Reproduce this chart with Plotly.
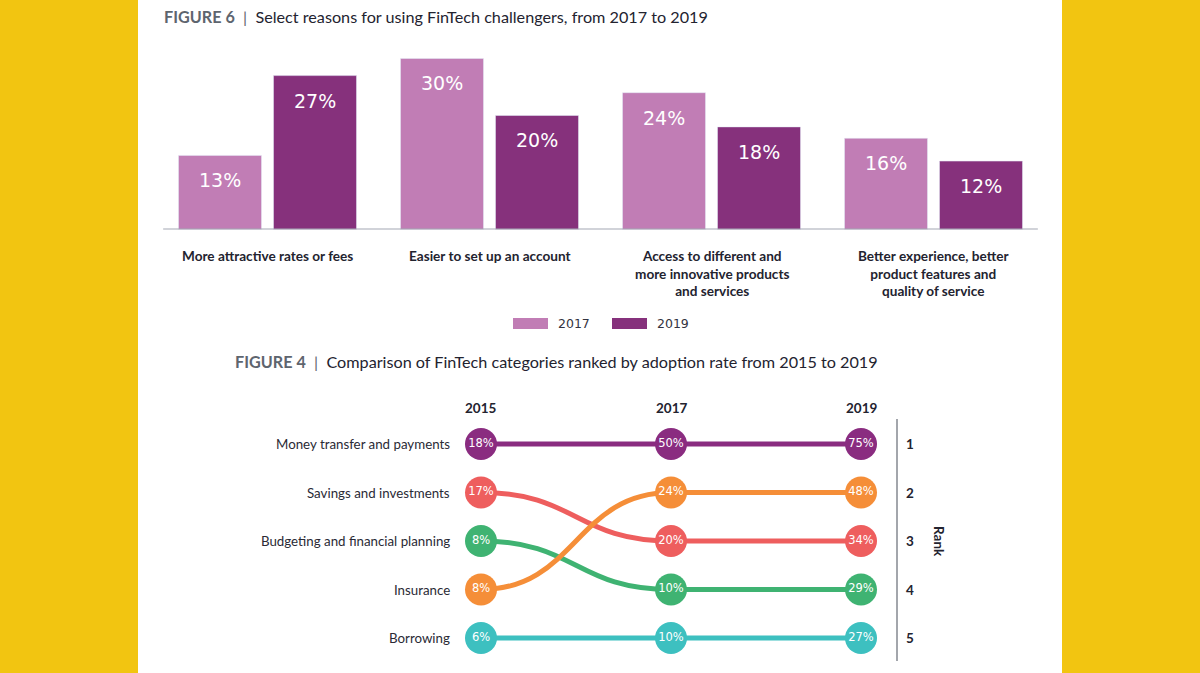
import plotly.graph_objects as go

# ---------------- data ----------------
reasons = ["More attractive rates or fees", "Easier to set up an account",
           "Access to different and more innovative products and services",
           "Better experience, better product features and quality of service"]
reason_labels = ["More attractive rates or fees", "Easier to set up an account",
                 "Access to different and<br>more innovative products<br>and services",
                 "Better experience, better<br>product features and<br>quality of service"]
share_2017 = [13, 30, 24, 16]
share_2019 = [27, 20, 18, 12]

bump_years = [2015, 2017, 2019]
bump_categories = ["Money transfer and payments", "Savings and investments",
                   "Budgeting and financial planning", "Insurance", "Borrowing"]
rank_money = [1, 1, 1]
rank_savings = [2, 3, 3]
rank_budget = [3, 4, 4]
rank_insurance = [4, 2, 2]
rank_borrow = [5, 5, 5]
adopt_money = [18, 50, 75]
adopt_savings = [17, 20, 34]
adopt_budget = [8, 10, 29]
adopt_insurance = [8, 24, 48]
adopt_borrow = [6, 10, 27]
rank_labels = ["1", "2", "3", "4", "5"]

# ---------------- styling ----------------
W, H = 1200, 673
YELLOW = "#F2C511"
C2017 = "#C17DB5"
C2019 = "#86317C"
DARK = "#23232F"
GRAY_T = "#5E656E"
BUMP_COLORS = {"Money transfer and payments": "#8A2C80",
               "Savings and investments": "#EE5E5E",
               "Budgeting and financial planning": "#3FB372",
               "Insurance": "#F58E38",
               "Borrowing": "#3DC0C0"}
TITLE_FONT = "Lato"
NUM_FONT = "DejaVu Sans"


def px_x(p):
    return p / W


def px_y(p):
    return 1 - p / H


fig = go.Figure()

# bar geometry (fraction of category slot)
slot = 222.0
bar_w = 83 / slot
gap = 12 / slot
idx = list(range(len(reasons)))

fig.add_trace(go.Bar(x=idx, y=share_2017, name="2017", marker_color=C2017,
                     width=bar_w, offset=-(gap / 2 + bar_w), xaxis="x", yaxis="y",
                     showlegend=False, hoverinfo="skip"))
fig.add_trace(go.Bar(x=idx, y=share_2019, name="2019", marker_color=C2019,
                     width=bar_w, offset=gap / 2, xaxis="x", yaxis="y",
                     showlegend=False, hoverinfo="skip"))

annotations = []
shapes = []

# white panel
shapes.append(dict(type="rect", xref="paper", yref="paper", x0=px_x(138), x1=px_x(1062),
                   y0=0, y1=1, fillcolor="white", line_width=0, layer="below"))

# bar value labels
c_off = gap / 2 + bar_w / 2
for i, v in enumerate(share_2017):
    annotations.append(dict(x=i - c_off, y=v, xref="x", yref="y", yshift=-25,
                            text=f"{v}%", showarrow=False, yanchor="middle",
                            font=dict(family=NUM_FONT, size=19, color="white")))
for i, v in enumerate(share_2019):
    annotations.append(dict(x=i + c_off, y=v, xref="x", yref="y", yshift=-25,
                            text=f"{v}%", showarrow=False, yanchor="middle",
                            font=dict(family=NUM_FONT, size=19, color="white")))

# category labels
for i, lab in enumerate(reason_labels):
    annotations.append(dict(x=i, y=px_y(246), xref="x", yref="paper", yanchor="top",
                            text=f"<b>{lab}</b>", showarrow=False, align="center",
                            font=dict(family=TITLE_FONT, size=13.6, color=DARK)))

# baseline
shapes.append(dict(type="line", xref="x", yref="y", x0=-0.47, x1=3.47, y0=0, y1=0,
                   line=dict(color="#A3A7B3", width=2)))

# custom legend
for (x0, x1, col, lab, tx) in [(513, 548, C2017, "2017", 556), (612, 647, C2019, "2019", 655)]:
    shapes.append(dict(type="rect", xref="paper", yref="paper", x0=px_x(x0), x1=px_x(x1),
                       y0=px_y(329), y1=px_y(318), fillcolor=col, line_width=0))
    annotations.append(dict(x=px_x(tx), y=px_y(323.5), xref="paper", yref="paper",
                            xanchor="left", yanchor="middle", text=lab, showarrow=False,
                            font=dict(family=NUM_FONT, size=12.5, color="#333340")))

# titles
annotations.append(dict(x=px_x(162), y=px_y(16), xref="paper", yref="paper", xanchor="left",
                        yanchor="middle",
                        text=f"<b><span style='color:{GRAY_T}'>FIGURE 6</span></b>"
                             f"\u00a0\u00a0<span style='color:{GRAY_T}'>|</span>\u00a0\u00a0"
                             "Select reasons for using FinTech challengers, from 2017 to 2019",
                        showarrow=False, font=dict(family=TITLE_FONT, size=16.2, color=DARK)))
annotations.append(dict(x=px_x(233), y=px_y(361), xref="paper", yref="paper", xanchor="left",
                        yanchor="middle",
                        text=f"<b><span style='color:{GRAY_T}'>FIGURE 4</span></b>"
                             f"\u00a0\u00a0<span style='color:{GRAY_T}'>|</span>\u00a0\u00a0"
                             "Comparison of FinTech categories ranked by adoption rate from 2015 to 2019",
                        showarrow=False, font=dict(family=TITLE_FONT, size=16.2, color=DARK)))

# ---------------- bump chart ----------------
series = [("Money transfer and payments", rank_money, adopt_money),
          ("Savings and investments", rank_savings, adopt_savings),
          ("Budgeting and financial planning", rank_budget, adopt_budget),
          ("Borrowing", rank_borrow, adopt_borrow),
          ("Insurance", rank_insurance, adopt_insurance)]

for name, ranks, vals in series:
    col = BUMP_COLORS[name]
    path = f"M {bump_years[0]},{ranks[0]}"
    for k in range(1, len(bump_years)):
        xa, xb = bump_years[k - 1], bump_years[k]
        ya, yb = ranks[k - 1], ranks[k]
        xm = (xa + xb) / 2
        path += f" C {xm},{ya} {xm},{yb} {xb},{yb}"
    shapes.append(dict(type="path", xref="x2", yref="y2", path=path,
                       line=dict(color=col, width=5), layer="below"))

for name, ranks, vals in series:
    col = BUMP_COLORS[name]
    fig.add_trace(go.Scatter(x=bump_years, y=ranks, xaxis="x2", yaxis="y2",
                             mode="markers+text", text=[f"{v}%" for v in vals],
                             textposition="middle center",
                             textfont=dict(family=NUM_FONT, size=11.5, color="white"),
                             marker=dict(size=32, color=col, line_width=0),
                             showlegend=False, hoverinfo="skip", cliponaxis=False))
    # row label at 2015 rank
    annotations.append(dict(x=bump_years[0], y=ranks[0], xref="x2", yref="y2",
                            xshift=-29, xanchor="right", yanchor="middle", text=name,
                            showarrow=False,
                            font=dict(family=TITLE_FONT, size=13.3, color="#2A2A35")))

# year headers
for yr in bump_years:
    annotations.append(dict(x=yr, y=px_y(408), xref="x2", yref="paper", yanchor="middle",
                            text=f"<b>{yr}</b>", showarrow=False,
                            font=dict(family=TITLE_FONT, size=13.5, color=DARK)))

# rank numbers
for r, lab in enumerate(rank_labels, start=1):
    annotations.append(dict(x=bump_years[-1], y=r, xref="x2", yref="y2", xshift=49,
                            yanchor="middle", text=f"<b>{lab}</b>", showarrow=False,
                            font=dict(family=TITLE_FONT, size=13.5, color=DARK)))
annotations.append(dict(x=bump_years[-1], y=3, xref="x2", yref="y2", xshift=78,
                        yanchor="middle", text="<b>Rank</b>", textangle=90, showarrow=False,
                        font=dict(family=TITLE_FONT, size=13.5, color=DARK)))
shapes.append(dict(type="line", xref="x2", yref="paper", xsizemode="pixel",
                   xanchor=bump_years[-1], x0=36, x1=36, y0=px_y(661), y1=px_y(419),
                   line=dict(color="#A3A6AC", width=2)))

axis_off = dict(showgrid=False, zeroline=False, showline=False, showticklabels=False,
                ticks="", fixedrange=True)
fig.update_layout(
    width=W, height=H, margin=dict(l=0, r=0, t=0, b=0),
    paper_bgcolor=YELLOW, plot_bgcolor="rgba(0,0,0,0)",
    barmode="overlay",
    xaxis=dict(domain=[px_x(156.5), px_x(1044.5)], range=[-0.5, 3.5], **axis_off),
    yaxis=dict(domain=[px_y(229.5), px_y(50)], range=[0, 179.5 / 5.7], **axis_off),
    xaxis2=dict(domain=[px_x(440), px_x(900)], range=[2015 - 41 / 95, 2019 + 39 / 95],
                anchor="y2", **axis_off),
    yaxis2=dict(domain=[px_y(670), px_y(400)], range=[5 + 32 / 48.5, 1 - 44 / 48.5],
                anchor="x2", **axis_off),
    annotations=annotations, shapes=shapes, showlegend=False,
)

fig.write_html("out.html")
